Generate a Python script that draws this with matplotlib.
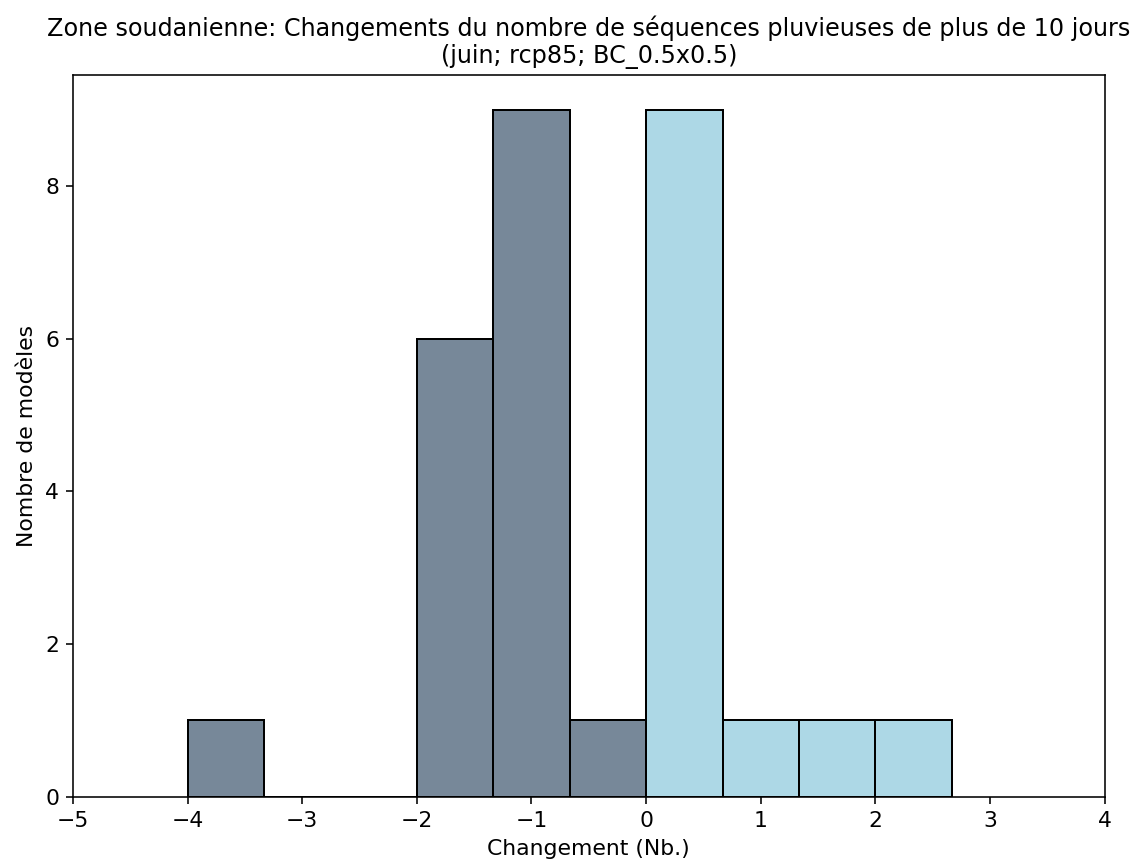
import matplotlib
matplotlib.use("Agg")
import matplotlib.pyplot as plt

# histogram bins (left edges) and counts
bin_left = [-4.0, -3.333, -2.667, -2.0, -1.333, -0.667, 0.0, 0.667, 1.333, 2.0]
bin_width = 0.6667
counts = [1, 0, 0, 6, 9, 1, 9, 1, 1, 1]

neg_color = "#778899"   # slategray
pos_color = "#ADD8E6"   # lightblue

title = ("Zone soudanienne: Changements du nombre de séquences pluvieuses de plus de 10 jours\n"
         "(juin; rcp85; BC_0.5x0.5)")

DPI = 143
fig, ax = plt.subplots(figsize=(1140 / DPI, 865 / DPI), dpi=DPI)

colors = [neg_color if x < 0 else pos_color for x in bin_left]
ax.bar(bin_left, counts, width=bin_width, align="edge",
       color=colors, edgecolor="black", linewidth=1.0)

ax.set_xlim(-5, 4)
ax.set_ylim(0, 9.45)
ax.set_xticks(range(-5, 5))
ax.set_yticks([0, 2, 4, 6, 8])
ax.set_xticklabels([str(t).replace("-", "\u2212") for t in range(-5, 5)])
ax.tick_params(labelsize=11)

ax.set_xlabel("Changement (Nb.)", fontsize=11)
ax.set_ylabel("Nombre de modèles", fontsize=11)
ax.set_title(title, fontsize=12)

fig.subplots_adjust(left=0.064, right=0.969, bottom=0.079, top=0.913)
fig.savefig("out.png", dpi=DPI)
